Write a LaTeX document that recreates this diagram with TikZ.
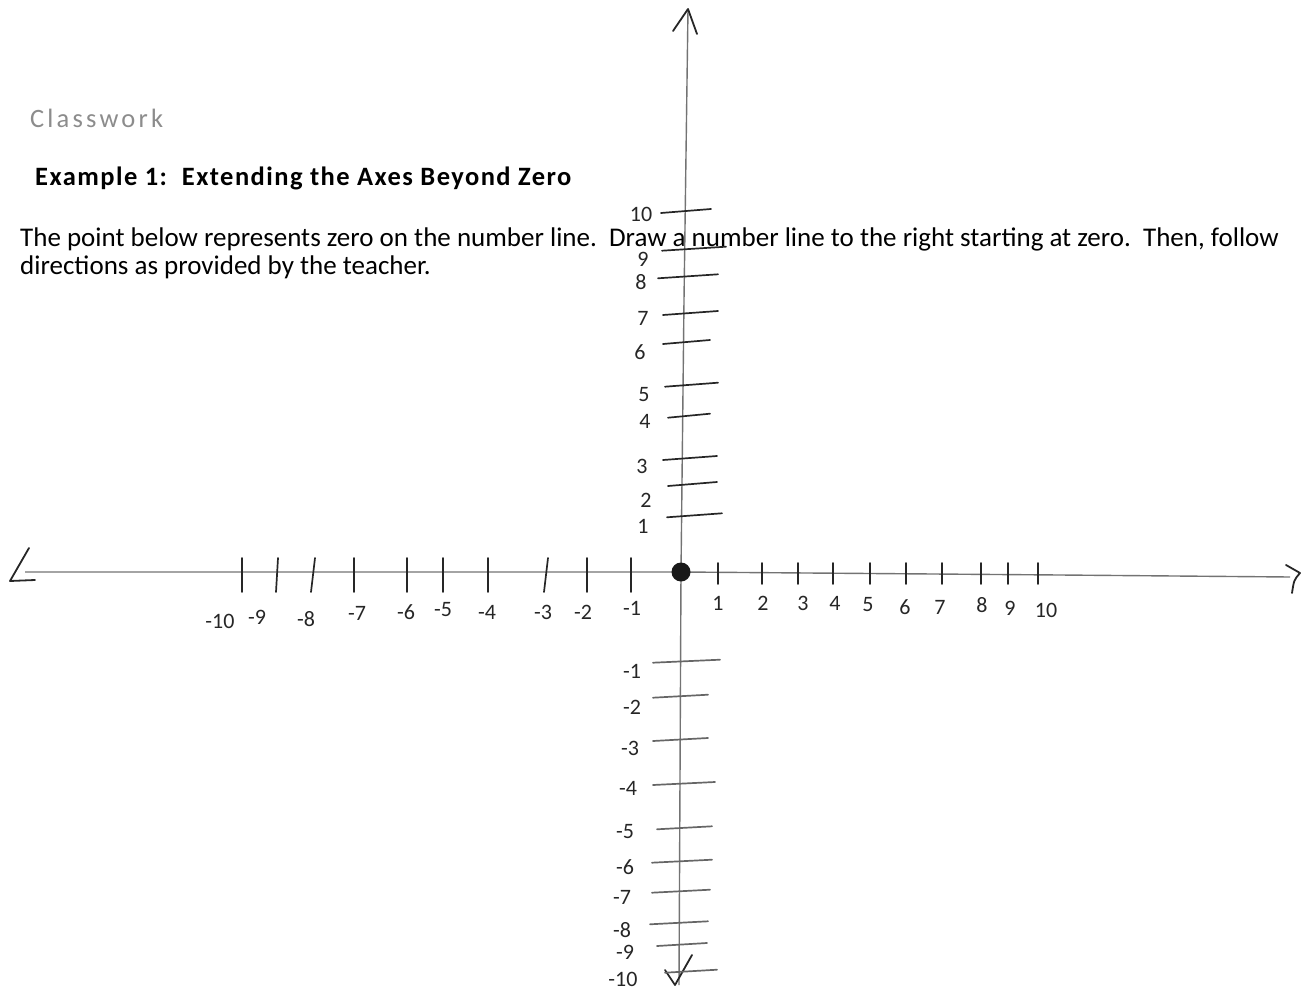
\documentclass[tikz,border=0pt]{standalone}
\usepackage{fontspec}
\setmainfont{Carlito}
\begin{document}
\begin{tikzpicture}[x=1pt,y=-1pt,
  axisline/.style={draw=black!55, line width=1.4pt, line join=round},
  tickmark/.style={draw=black!85, line width=1.7pt, line cap=round},
  lighttick/.style={draw=black!60, line width=1.7pt, line cap=round},
  headstroke/.style={draw=black!85, line width=1.8pt, line cap=round, line join=round},
  hand/.style={font=\fontsize{22}{22}\selectfont, text=black!85, inner sep=0pt},
  bodytext/.style={anchor=base west, inner sep=0pt, font=\fontsize{27}{31}\selectfont},
]
\useasboundingbox (0,0) rectangle (1301,990);

% ---- texts
\node[bodytext, text=black!45, font=\fontsize{26.5}{31}\selectfont\addfontfeatures{LetterSpace=12}] (classwork) at (30,127) {Classwork};
\node[bodytext, font=\fontsize{26.5}{31}\selectfont\bfseries\addfontfeatures{LetterSpace=5.5}] (heading) at (35,185) {Example 1:\ \ Extending the Axes Beyond Zero};
\node[bodytext] (line1) at (20,246) {The point below represents zero on the number line.\ \ Draw a number line to the right starting at zero.\ \ Then, follow};
\node[bodytext] (line2) at (20,274) {directions as provided by the teacher.};

% ---- axes
\coordinate (ytop) at (688,9);
\coordinate (ybot) at (679,985);
\coordinate (xleft) at (25,572);
\coordinate (xright) at (1290,577);
\coordinate (origin) at (681,572);
\draw[axisline] (ytop) -- (684,300) -- (origin) -- (ybot);
\draw[axisline] (xleft) -- (origin) -- (1060,575) -- (xright);

% arrowheads
\draw[headstroke] (673,31) -- (ytop) -- (697,34);
\draw[headstroke] (665,970) -- (675,985) -- (692,955);
\draw[headstroke] (29,548) -- (10,581) -- (35,580);
\draw[headstroke] (1286,565) -- (1300,573) .. controls (1294,580) .. (1292,593);

% origin dot
\node[circle, fill=black!90, minimum size=19pt, inner sep=0pt] (zero) at (origin) {};

% ---- x ticks (negative)
\foreach \x/\t in {241.7/0, 277/1, 313/2, 354/0, 407/0, 443/0, 488/0, 546/2, 587/0, 631/0}
  \draw[tickmark] (\x+\t,558) -- (\x-\t,592);
% ---- x ticks (positive)
\foreach \x in {717.7, 761.7, 798.3, 833.3, 870, 906, 941.7, 980.7, 1008.3, 1037.7}
  \draw[tickmark] (\x,563) -- (\x,584);

% ---- y ticks (positive)
\foreach \y/\a/\b in {213/661/711, 250.7/662/726, 278.3/658/718, 315/663/718, 344/663/710, 386.7/665/718, 417.7/668/710, 460/663/717, 486/668/717, 517.3/667/722}
  \draw[tickmark] (\a,\y) -- (\b,\y-4);
% ---- y ticks (negative)
\foreach \y/\a/\b in {661.7/653/720, 696.7/653/708, 740/653/708, 784/653/715, 828.3/657/712, 861.7/652/712, 891.7/652/710, 923.3/650/708, 945/657/707, 971.7/665/717}
  \draw[lighttick] (\a,\y+1) -- (\b,\y-2);

% ---- x labels
\node[hand] (xm10) at (220,621) {-10};
\node[hand] (xm9)  at (257,617) {-9};
\node[hand] (xm8)  at (306,619) {-8};
\node[hand] (xm7)  at (357,613) {-7};
\node[hand] (xm6)  at (406,612) {-6};
\node[hand] (xm5)  at (443,610) {-5};
\node[hand] (xm4)  at (487,612) {-4};
\node[hand] (xm3)  at (543,612) {-3};
\node[hand] (xm2)  at (583,612) {-2};
\node[hand] (xm1)  at (632,608) {-1};
\node[hand] (xp1)  at (718,603) {1};
\node[hand] (xp2)  at (763,603) {2};
\node[hand] (xp3)  at (803,603) {3};
\node[hand] (xp4)  at (835,603) {4};
\node[hand] (xp5)  at (868,605) {5};
\node[hand] (xp6)  at (905,607) {6};
\node[hand] (xp7)  at (940,607) {7};
\node[hand] (xp8)  at (982,605) {8};
\node[hand] (xp9)  at (1010,608) {9};
\node[hand] (xp10) at (1046,610) {10};

% ---- y labels
\node[hand] (yp10) at (641,214) {10};
\node[hand] (yp9)  at (643,259) {9};
\node[hand] (yp8)  at (641,282) {8};
\node[hand] (yp7)  at (643,318) {7};
\node[hand] (yp6)  at (640,352) {6};
\node[hand] (yp5)  at (644,395) {5};
\node[hand] (yp4)  at (645,421) {4};
\node[hand] (yp3)  at (642,466) {3};
\node[hand] (yp2)  at (646,500) {2};
\node[hand] (yp1)  at (643,526) {1};
\node[hand] (ym1)  at (632,671) {-1};
\node[hand] (ym2)  at (632,707) {-2};
\node[hand] (ym3)  at (630,748) {-3};
\node[hand] (ym4)  at (628,788) {-4};
\node[hand] (ym5)  at (625,832) {-5};
\node[hand] (ym6)  at (625,867) {-6};
\node[hand] (ym7)  at (622,897) {-7};
\node[hand] (ym8)  at (622,930) {-8};
\node[hand] (ym9)  at (625,952) {-9};
\node[hand] (ym10) at (623,979) {-10};
\end{tikzpicture}
\end{document}
